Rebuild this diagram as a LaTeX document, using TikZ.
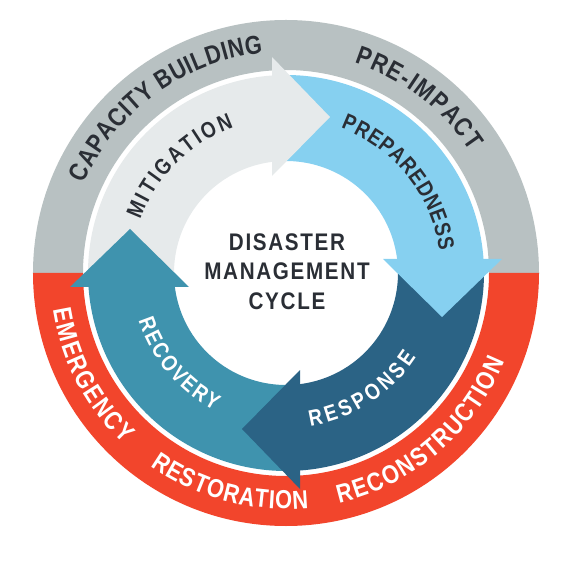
\documentclass[tikz,border=0pt]{standalone}
\usepackage{fontspec}
\usetikzlibrary{decorations.text}
\newfontfamily\cyclefont[FakeStretch=0.84]{Liberation Sans}
\newfontfamily\titlefont[FakeStretch=0.86, LetterSpace=7]{Liberation Sans}
\definecolor{ringgray}{HTML}{B8C1C2}
\definecolor{ringred}{HTML}{F2452C}
\definecolor{mitigcol}{HTML}{E6EAEB}
\definecolor{prepcol}{HTML}{86D0F0}
\definecolor{respcol}{HTML}{2B6385}
\definecolor{recovcol}{HTML}{3F93AE}
\definecolor{inkcol}{HTML}{2A2E35}
\newcommand{\outerfont}{\cyclefont\bfseries\fontsize{26}{26}\selectfont}
\newcommand{\innerfont}{\cyclefont\bfseries\fontsize{22.5}{22.5}\selectfont}
\tikzstyle{curvedlabel} = [decorate,
decoration={text along path, text align={fit to path}}]
\tikzstyle{titletext} = [align=center,
text=inkcol,
font=\titlefont\bfseries\fontsize{24}{29.5}\selectfont]

\begin{document}
\begin{tikzpicture}[x=1pt, y=1pt]

\useasboundingbox (-286,-291) rectangle (278,273);

% outer ring
\fill[ringgray] (0:253) arc[start angle=0, end angle=180, radius=253] -- (180:203) arc[start angle=180, end angle=0, radius=203] -- cycle;
\fill[ringred] (180:253) arc[start angle=180, end angle=360, radius=253] -- (0:203) arc[start angle=360, end angle=180, radius=203] -- cycle;

% arrow bodies
\fill[mitigcol] (183:112) arc[start angle=183, end angle=91, radius=112] -- (91:198) arc[start angle=91, end angle=183, radius=198] -- cycle;
\begin{scope}[rotate=-90]
\fill[prepcol] (183:112) arc[start angle=183, end angle=91, radius=112] -- (91:198) arc[start angle=91, end angle=183, radius=198] -- cycle;
\end{scope}
\begin{scope}[rotate=-180]
\fill[respcol] (183:112) arc[start angle=183, end angle=91, radius=112] -- (91:198) arc[start angle=91, end angle=183, radius=198] -- cycle;
\end{scope}
\begin{scope}[rotate=90]
\fill[recovcol] (183:112) arc[start angle=183, end angle=91, radius=112] -- (91:198) arc[start angle=91, end angle=183, radius=198] -- cycle;
\end{scope}

% arrow heads
\fill[mitigcol] (-14,97) -- (-14,216) -- (44,156) -- cycle;
\begin{scope}[rotate=-90]
\fill[prepcol] (-14,97) -- (-14,216) -- (44,156) -- cycle;
\end{scope}
\begin{scope}[rotate=-180]
\fill[respcol] (-14,97) -- (-14,216) -- (44,156) -- cycle;
\end{scope}
\begin{scope}[rotate=90]
\fill[recovcol] (-14,97) -- (-14,216) -- (44,156) -- cycle;
\end{scope}

% outer labels
\path[curvedlabel, decoration={text={|\outerfont\color{inkcol}|CAPACITY BUILDING}}] (156:221) arc[start angle=156, end angle=96, radius=221];
\path[curvedlabel, decoration={text={|\outerfont\color{inkcol}|PRE-IMPACT}}] (72:221) arc[start angle=72, end angle=33.5, radius=221];
\path[curvedlabel, decoration={text={|\outerfont\color{white}|EMERGENCY}}] (189:236) arc[start angle=189, end angle=226.5, radius=236];
\path[curvedlabel, decoration={text={|\outerfont\color{white}|RESTORATION}}] (235:236) arc[start angle=235, end angle=275.5, radius=236];
\path[curvedlabel, decoration={text={|\outerfont\color{white}|RECONSTRUCTION}}] (283:236) arc[start angle=283, end angle=338, radius=236];

% arrow labels
\path[curvedlabel, decoration={text={|\innerfont\color{inkcol}|MITIGATION}}] (160:155) arc[start angle=160, end angle=109.7, radius=155];
\path[curvedlabel, decoration={text={|\innerfont\color{inkcol}|PREPAREDNESS}}] (69.3:155) arc[start angle=69.3, end angle=8.3, radius=155];
\path[curvedlabel, decoration={text={|\innerfont\color{white}|RESPONSE}}] (279:155) arc[start angle=279, end angle=327, radius=155];
\path[curvedlabel, decoration={text={|\innerfont\color{white}|RECOVERY}}] (198:155) arc[start angle=198, end angle=242.5, radius=155];

\node (title) [titletext] at (1,1.5) {DISASTER\\MANAGEMENT\\CYCLE};

\end{tikzpicture}
\end{document}
